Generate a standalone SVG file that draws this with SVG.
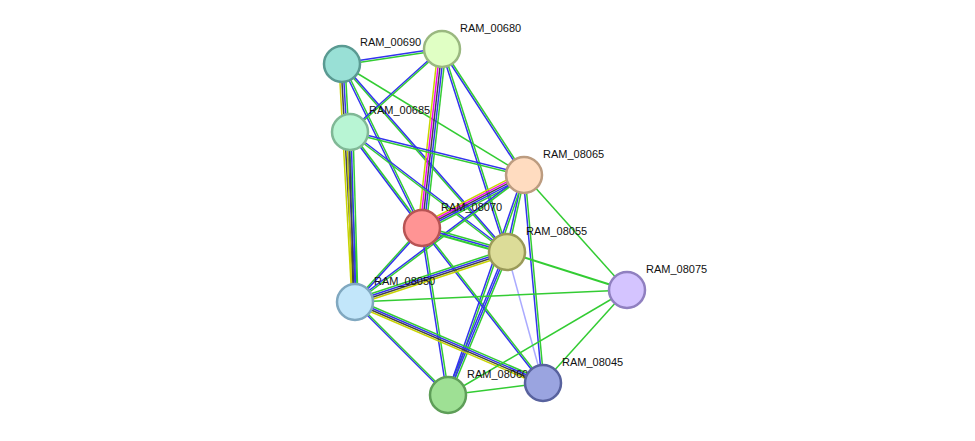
<svg xmlns="http://www.w3.org/2000/svg" width="975" height="441" viewBox="0 0 975 441">
<style>
line{stroke-width:1.5}
.g{stroke:#33cc33}.b{stroke:#3333ee}.k{stroke:#444}.y{stroke:#c8d400}.m{stroke:#ee00ee}.lb{stroke:#aaaaff}
circle{stroke-width:2.5}
text{font-family:"Liberation Sans",Arial,sans-serif;font-size:11px;fill:#111}
</style>
<rect width="975" height="441" fill="#fff"/>
<g id="edges">
<!-- A-B -->
<line class="b" x1="342" y1="63" x2="442" y2="48"/><line class="g" x1="342" y1="65" x2="442" y2="50"/>
<!-- A-H -->
<line class="y" x1="339" y1="64" x2="352" y2="302"/><line class="k" x1="341" y1="64" x2="354" y2="302"/><line class="b" x1="343" y1="64" x2="356" y2="302"/><line class="g" x1="345" y1="64" x2="358" y2="302"/>
<!-- C-H -->
<line class="y" x1="347" y1="132" x2="352" y2="302"/><line class="k" x1="349" y1="132" x2="354" y2="302"/><line class="b" x1="351" y1="132" x2="356" y2="302"/><line class="g" x1="353" y1="132" x2="358" y2="302"/>
<!-- A-E -->
<line class="b" x1="341" y1="64" x2="421" y2="228"/><line class="g" x1="343" y1="64" x2="423" y2="228"/>
<!-- A-F -->
<line class="g" x1="341" y1="64" x2="506" y2="252"/><line class="b" x1="343" y1="64" x2="508" y2="252"/>
<!-- A-D -->
<line class="g" x1="342" y1="64" x2="524" y2="175"/>
<!-- B-C -->
<line class="b" x1="442" y1="48" x2="350" y2="131"/><line class="g" x1="442" y1="50" x2="350" y2="133"/>
<!-- B-E -->
<line class="y" x1="438" y1="49" x2="418" y2="228"/><line class="m" x1="440" y1="49" x2="420" y2="228"/><line class="k" x1="442" y1="49" x2="422" y2="228"/><line class="b" x1="444" y1="49" x2="424" y2="228"/><line class="g" x1="446" y1="49" x2="426" y2="228"/>
<!-- B-D -->
<line class="b" x1="441" y1="49" x2="523" y2="175"/><line class="g" x1="443" y1="49" x2="525" y2="175"/>
<!-- B-F -->
<line class="b" x1="441" y1="49" x2="506" y2="252"/><line class="g" x1="443" y1="49" x2="508" y2="252"/>
<!-- C-D -->
<line class="b" x1="350" y1="131" x2="524" y2="174"/><line class="g" x1="350" y1="133" x2="524" y2="176"/>
<!-- C-E -->
<line class="b" x1="349" y1="132" x2="421" y2="228"/><line class="g" x1="351" y1="132" x2="423" y2="228"/>
<!-- C-F -->
<line class="b" x1="350" y1="131" x2="507" y2="251"/><line class="g" x1="350" y1="133" x2="507" y2="253"/>
<!-- D-E -->
<line class="y" x1="524" y1="171" x2="422" y2="224"/><line class="m" x1="524" y1="173" x2="422" y2="226"/><line class="k" x1="524" y1="175" x2="422" y2="228"/><line class="b" x1="524" y1="177" x2="422" y2="230"/><line class="g" x1="524" y1="179" x2="422" y2="232"/>
<!-- D-F -->
<line class="b" x1="523" y1="175" x2="506" y2="252"/><line class="g" x1="525" y1="175" x2="508" y2="252"/>
<!-- D-G -->
<line class="g" x1="524" y1="175" x2="627" y2="290"/>
<!-- D-H -->
<line class="b" x1="524" y1="174" x2="355" y2="301"/><line class="g" x1="524" y1="176" x2="355" y2="303"/>
<!-- D-I -->
<line class="b" x1="523" y1="175" x2="542" y2="383"/><line class="g" x1="525" y1="175" x2="544" y2="383"/>
<!-- D-J -->
<line class="b" x1="523" y1="175" x2="447" y2="395"/><line class="g" x1="525" y1="175" x2="449" y2="395"/>
<!-- E-F -->
<line class="g" x1="422" y1="226" x2="507" y2="250"/><line class="b" x1="422" y1="228" x2="507" y2="252"/><line class="g" x1="422" y1="230" x2="507" y2="254" style="stroke-width:2"/>
<!-- E-H -->
<line class="g" x1="421" y1="228" x2="354" y2="302"/><line class="b" x1="423" y1="228" x2="356" y2="302"/>
<!-- E-J -->
<line class="b" x1="421" y1="228" x2="447" y2="395"/><line class="g" x1="423" y1="228" x2="449" y2="395"/>
<!-- E-I -->
<line class="b" x1="421" y1="228" x2="542" y2="383"/><line class="g" x1="423" y1="228" x2="544" y2="383"/>
<!-- F-H -->
<line class="y" x1="507" y1="255" x2="355" y2="305"/><line class="k" x1="507" y1="253" x2="355" y2="303"/><line class="b" x1="507" y1="251" x2="355" y2="301"/><line class="g" x1="507" y1="249" x2="355" y2="299"/>
<!-- F-G -->
<line class="g" x1="507" y1="252" x2="627" y2="290" style="stroke-width:2"/>
<!-- F-J -->
<line class="b" x1="505" y1="252" x2="446" y2="395"/><line class="b" x1="507" y1="252" x2="448" y2="395"/><line class="g" x1="509" y1="252" x2="450" y2="395"/>
<!-- F-I -->
<line class="lb" x1="507" y1="252" x2="543" y2="383"/>
<!-- H-G -->
<line class="g" x1="355" y1="302" x2="627" y2="290"/>
<!-- H-I -->
<line class="g" x1="355" y1="299" x2="543" y2="380"/><line class="b" x1="355" y1="301" x2="543" y2="382"/><line class="k" x1="355" y1="303" x2="543" y2="384"/><line class="y" x1="355" y1="305" x2="543" y2="386"/>
<!-- H-J -->
<line class="b" x1="354" y1="302" x2="447" y2="395"/><line class="g" x1="356" y1="302" x2="449" y2="395"/>
<!-- J-I, J-G, I-G -->
<line class="g" x1="448" y1="395" x2="543" y2="383"/>
<line class="g" x1="448" y1="395" x2="627" y2="290"/>
<line class="g" x1="543" y1="383" x2="627" y2="290"/>
</g>
<g id="RAM_00690"><circle cx="342" cy="64" r="18" fill="#99e0d6" stroke="#5a9a92"/><text x="360" y="46">RAM_00690</text></g>
<g id="RAM_00680"><circle cx="442" cy="49" r="18" fill="#e0ffc4" stroke="#9ab880"/><text x="460" y="32">RAM_00680</text></g>
<g id="RAM_00685"><circle cx="350" cy="132" r="18" fill="#b8f5d4" stroke="#80b896"/><text x="369" y="114">RAM_00685</text></g>
<g id="RAM_08065"><circle cx="524" cy="175" r="18" fill="#ffdcc0" stroke="#bc9c80"/><text x="543" y="158">RAM_08065</text></g>
<g id="RAM_08070"><circle cx="422" cy="228" r="18" fill="#ff9494" stroke="#b85454"/><text x="441" y="211">RAM_08070</text></g>
<g id="RAM_08055"><circle cx="507" cy="252" r="18" fill="#dcdc98" stroke="#9a9a58"/><text x="526" y="235">RAM_08055</text></g>
<g id="RAM_08075"><circle cx="627" cy="290" r="18" fill="#d4c4ff" stroke="#9080c0"/><text x="646" y="273">RAM_08075</text></g>
<g id="RAM_08050"><circle cx="355" cy="302" r="18" fill="#c2e6fa" stroke="#80a8c0"/><text x="374" y="285">RAM_08050</text></g>
<g id="RAM_08060"><circle cx="448" cy="395" r="18" fill="#9ee094" stroke="#5e9e58"/><text x="467" y="378">RAM_08060</text></g>
<g id="RAM_08045"><circle cx="543" cy="383" r="18" fill="#9aa4e0" stroke="#58629e"/><text x="562" y="366">RAM_08045</text></g>
</svg>
